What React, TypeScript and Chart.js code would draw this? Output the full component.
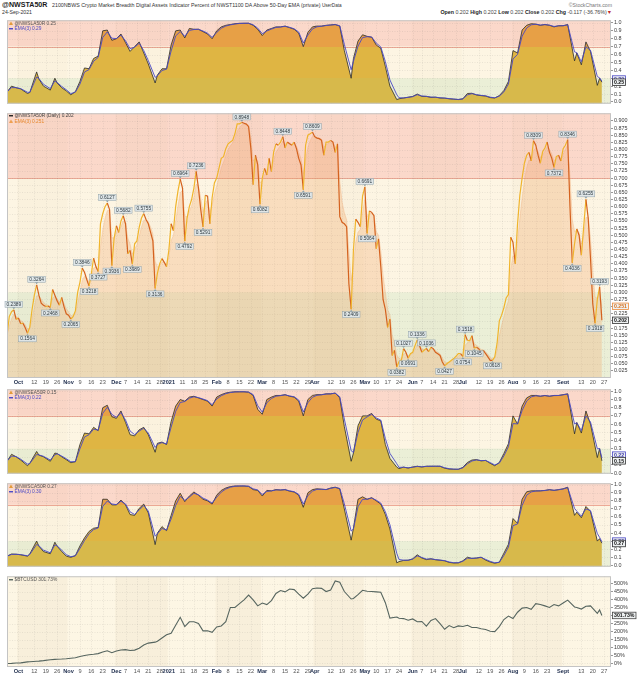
import React, { useEffect, useRef } from 'react';
import { Chart, registerables } from 'chart.js';

Chart.register(...registerables);

const FONT = "'Liberation Sans', Arial, Helvetica, sans-serif";
Chart.defaults.font.family = FONT;

// ---------------- calendar / x axis ----------------
const FIRST_DAY_UTC = Date.UTC(2020, 8, 24); // 24-Sep-2020, first plotted trading day
const X_MAX = 265; // trading-day slots incl. right margin
const MONTH_NAMES = ['2021', 'Feb', 'Mar', 'Apr', 'May', 'Jun', 'Jul', 'Aug', 'Sept', 'Oct', 'Nov', 'Dec'];
const SHADED_MONTHS = [9, 11, 1, 3, 5, 7];

// ---------------- main panel: @NWSTA50R (daily) ----------------
const MAIN_VALUES = [
  0.150, 0.215, 0.232, 0.2389, 0.205, 0.210, 0.190, 0.192, 0.176, 0.1564,
  0.178, 0.240, 0.290, 0.3264, 0.290, 0.262, 0.255, 0.250, 0.252, 0.2468,
  0.310, 0.290, 0.270, 0.255, 0.282, 0.250, 0.225, 0.220, 0.2065, 0.215,
  0.235, 0.300, 0.335, 0.3846, 0.370, 0.345, 0.3218, 0.365, 0.420, 0.390,
  0.3727, 0.540, 0.575, 0.600, 0.6127, 0.590, 0.3936, 0.490, 0.533, 0.510,
  0.550, 0.5682, 0.540, 0.435, 0.447, 0.3989, 0.470, 0.480, 0.527, 0.560,
  0.5755, 0.555, 0.540, 0.510, 0.480, 0.3136, 0.367, 0.400, 0.418, 0.405,
  0.390, 0.447, 0.540, 0.516, 0.600, 0.654, 0.6964, 0.665, 0.4792, 0.560,
  0.600, 0.625, 0.665, 0.7236, 0.665, 0.590, 0.5291, 0.640, 0.637, 0.540,
  0.631, 0.683, 0.700, 0.734, 0.769, 0.775, 0.803, 0.820, 0.826, 0.832,
  0.855, 0.890, 0.890, 0.8948, 0.892, 0.889, 0.880, 0.803, 0.677, 0.780,
  0.746, 0.6082, 0.700, 0.734, 0.711, 0.769, 0.723, 0.792, 0.820, 0.815,
  0.826, 0.8448, 0.806, 0.826, 0.820, 0.815, 0.826, 0.803, 0.769, 0.746,
  0.6591, 0.815, 0.850, 0.855, 0.8609, 0.845, 0.840, 0.838, 0.832, 0.780,
  0.826, 0.826, 0.832, 0.826, 0.790, 0.820, 0.565, 0.545, 0.540, 0.530,
  0.330, 0.2409, 0.450, 0.556, 0.545, 0.530, 0.637, 0.6691, 0.5064, 0.585,
  0.580, 0.568, 0.453, 0.487, 0.390, 0.275, 0.240, 0.177, 0.206, 0.079,
  0.097, 0.0382, 0.057, 0.062, 0.1027, 0.090, 0.0691, 0.085, 0.090, 0.113,
  0.1336, 0.113, 0.090, 0.097, 0.1036, 0.092, 0.108, 0.103, 0.090, 0.085,
  0.079, 0.056, 0.0427, 0.050, 0.056, 0.062, 0.068, 0.076, 0.085, 0.085,
  0.0754, 0.1518, 0.131, 0.131, 0.148, 0.1045, 0.108, 0.102, 0.090, 0.097,
  0.085, 0.074, 0.062, 0.0618, 0.074, 0.120, 0.200, 0.220, 0.246, 0.280,
  0.292, 0.493, 0.475, 0.400, 0.540, 0.640, 0.700, 0.752, 0.780, 0.790,
  0.760, 0.8309, 0.815, 0.780, 0.752, 0.792, 0.805, 0.826, 0.790, 0.770,
  0.7372, 0.775, 0.780, 0.760, 0.803, 0.815, 0.8346, 0.600, 0.4036, 0.470,
  0.522, 0.500, 0.430, 0.528, 0.6255, 0.560, 0.420, 0.260, 0.1918, 0.275,
  0.3193, 0.202,
];
const PEAK_IDX = [3, 9, 13, 19, 28, 33, 36, 40, 44, 46, 51, 55, 60, 65, 76, 78, 83, 86, 103, 111, 121, 130, 134, 151, 157, 158, 171, 174, 176, 180, 184, 192, 200, 201, 205, 213, 231, 240, 246, 248, 254, 258, 260];
const PEAK_DIR = [1, -1, 1, -1, -1, 1, -1, -1, 1, -1, 1, -1, 1, -1, 1, -1, 1, -1, 1, -1, 1, -1, 1, -1, 1, -1, -1, 1, -1, 1, 1, -1, -1, 1, -1, -1, 1, -1, 1, -1, 1, -1, 1];
const MAIN_LAST = 0.202;
const MAIN_EMA_LAST = 0.251;

// ---------------- small panels (sampled every ~2 trading days) ----------------
const SAMPLE_ODD = [8, 12, 18, 20, 64, 150, 170, 248, 258];
const LA_VALUES = [
  0.126, 0.20, 0.18, 0.165, 0.107, 0.12, 0.38, 0.29, 0.20, 0.15,
  0.30, 0.24, 0.18, 0.14, 0.09, 0.13, 0.26, 0.43, 0.42, 0.55,
  0.58, 0.90, 0.91, 0.78, 0.80, 0.86, 0.75, 0.64, 0.70, 0.76,
  0.62, 0.48, 0.24, 0.34, 0.42, 0.42, 0.72, 0.90, 0.91, 0.81,
  0.93, 0.92, 0.92, 0.89, 0.86, 0.80, 0.90, 0.95, 0.97, 0.98,
  0.99, 0.995, 0.996, 0.996, 0.97, 0.92, 0.84, 0.91, 0.93, 0.95,
  0.95, 0.96, 0.94, 0.92, 0.87, 0.70, 0.88, 0.95, 0.96, 0.96,
  0.97, 0.975, 0.98, 0.96, 0.65, 0.30, 0.55, 0.77, 0.85, 0.83,
  0.82, 0.72, 0.68, 0.45, 0.20, 0.03, 0.04, 0.05, 0.06, 0.07,
  0.10, 0.07, 0.07, 0.058, 0.06, 0.05, 0.048, 0.04, 0.035, 0.03,
  0.04, 0.107, 0.11, 0.088, 0.08, 0.075, 0.055, 0.05, 0.08, 0.145,
  0.26, 0.65, 0.62, 0.91, 0.97, 0.99, 0.985, 0.97, 0.98, 0.97,
  0.95, 0.965, 0.965, 0.98, 0.52, 0.62, 0.47, 0.76, 0.64, 0.21,
  0.30, 0.25,
];
const EA_VALUES = [
  0.145, 0.23, 0.20, 0.16, 0.09, 0.12, 0.265, 0.22, 0.20, 0.145,
  0.245, 0.24, 0.20, 0.165, 0.127, 0.14, 0.35, 0.49, 0.48, 0.56,
  0.52, 0.80, 0.83, 0.69, 0.67, 0.76, 0.62, 0.47, 0.455, 0.53,
  0.56, 0.47, 0.255, 0.365, 0.38, 0.35, 0.63, 0.82, 0.90, 0.88,
  0.93, 0.94, 0.92, 0.90, 0.88, 0.82, 0.93, 0.96, 0.98, 0.99,
  0.995, 0.995, 0.995, 0.99, 0.95, 0.78, 0.72, 0.90, 0.93, 0.95,
  0.95, 0.96, 0.94, 0.93, 0.88, 0.70, 0.90, 0.95, 0.96, 0.96,
  0.97, 0.97, 0.98, 0.92, 0.57, 0.145, 0.245, 0.58, 0.70, 0.70,
  0.73, 0.66, 0.64, 0.35, 0.18, 0.073, 0.055, 0.073, 0.062, 0.075,
  0.084, 0.075, 0.084, 0.084, 0.084, 0.084, 0.06, 0.05, 0.047, 0.047,
  0.07, 0.13, 0.16, 0.165, 0.15, 0.155, 0.12, 0.09, 0.13, 0.24,
  0.36, 0.70, 0.60, 0.82, 0.92, 0.95, 0.95, 0.94, 0.95, 0.94,
  0.95, 0.95, 0.96, 0.97, 0.48, 0.62, 0.49, 0.76, 0.60, 0.19,
  0.30, 0.15,
];
const CA_VALUES = [
  0.113, 0.14, 0.137, 0.13, 0.113, 0.14, 0.30, 0.237, 0.17, 0.143,
  0.286, 0.237, 0.17, 0.113, 0.098, 0.12, 0.24, 0.34, 0.42, 0.46,
  0.47, 0.82, 0.82, 0.75, 0.75, 0.81, 0.75, 0.63, 0.62, 0.707,
  0.76, 0.65, 0.256, 0.40, 0.48, 0.43, 0.62, 0.80, 0.895, 0.79,
  0.86, 0.91, 0.87, 0.82, 0.80, 0.76, 0.87, 0.93, 0.96, 0.977,
  0.985, 0.985, 0.985, 0.98, 0.94, 0.93, 0.86, 0.93, 0.925, 0.94,
  0.935, 0.94, 0.92, 0.91, 0.87, 0.72, 0.90, 0.94, 0.95, 0.945,
  0.94, 0.96, 0.97, 0.95, 0.70, 0.312, 0.46, 0.82, 0.85, 0.82,
  0.84, 0.80, 0.76, 0.63, 0.45, 0.03, 0.045, 0.06, 0.062, 0.08,
  0.13, 0.09, 0.07, 0.08, 0.068, 0.062, 0.055, 0.035, 0.028, 0.03,
  0.055, 0.10, 0.085, 0.09, 0.10, 0.064, 0.04, 0.025, 0.038, 0.15,
  0.26, 0.58, 0.52, 0.82, 0.913, 0.925, 0.925, 0.925, 0.93, 0.94,
  0.93, 0.94, 0.95, 0.97, 0.62, 0.66, 0.59, 0.73, 0.67, 0.30,
  0.33, 0.274,
];
const BTC_PCT = [
  0, 1, 3, 4, 10, 11, 14, 15, 18, 24,
  26, 27, 28, 30, 33, 36, 44, 50, 55, 58,
  62, 72, 80, 68, 78, 85, 87, 82, 84, 96,
  116, 128, 134, 140, 160, 180, 190, 240, 290, 232,
  262, 262, 252, 205, 206, 196, 230, 236, 262, 352,
  352, 376, 400, 430, 400, 362, 380, 370, 395, 440,
  458, 450, 468, 464, 436, 410, 436, 470, 474, 472,
  452, 462, 518, 510, 452, 405, 408, 432, 460, 454,
  452, 450, 448, 382, 285, 292, 284, 282, 272, 280,
  262, 264, 235, 270, 282, 250, 215, 238, 225, 236,
  232, 240, 226, 226, 218, 213, 203, 200, 232, 276,
  298, 282, 322, 348, 352, 340, 376, 370, 362, 352,
  370, 362, 380, 398, 355, 352, 342, 360, 362, 315,
  336, 301.73,
];
const PANEL_NAMES = ['@NWSLA50R', '@NWSEA50R', '@NWSCA50R'];
const PANEL_LAST = [0.25, 0.15, 0.27];
const PANEL_EMA_LAST = [0.29, 0.22, 0.30];
const PANEL_BAND_HI = [0.7, 0.7, 0.75];
const PANEL_BAND_LO = [0.3, 0.3, 0.3];
const BTC_LAST = '301.73%';

const PANEL_Y_TICKS = [0, 0.1, 0.2, 0.3, 0.4, 0.5, 0.6, 0.7, 0.8, 0.9, 1.0];
const MAIN_Y_TICKS = [0.025, 0.05, 0.075, 0.1, 0.125, 0.15, 0.175, 0.2, 0.225, 0.25, 0.275, 0.3, 0.325, 0.35, 0.375, 0.4, 0.425, 0.45, 0.475, 0.5, 0.525, 0.55, 0.575, 0.6, 0.625, 0.65, 0.675, 0.7, 0.725, 0.75, 0.775, 0.8, 0.825, 0.85, 0.875, 0.9];
const BTC_Y_TICKS = [0, 50, 100, 150, 200, 250, 300, 350, 400, 450, 500];

// ---------------- derived helpers ----------------
const SAMPLE_IDX = Array.from({ length: 131 }, (_, i) => (SAMPLE_ODD.includes(i * 2) ? i * 2 + 1 : i * 2)).concat([261]);

function tradingDays(n: number): Date[] {
  const out: Date[] = [];
  const d = new Date(FIRST_DAY_UTC);
  while (out.length < n) {
    const wd = d.getUTCDay();
    if (wd !== 0 && wd !== 6) out.push(new Date(d.getTime()));
    d.setUTCDate(d.getUTCDate() + 1);
  }
  return out;
}
const DAYS = tradingDays(X_MAX + 1);
const MONTH_STARTS: number[] = [];
DAYS.forEach((d, i) => {
  if (i > 0 && d.getUTCMonth() !== DAYS[i - 1].getUTCMonth()) MONTH_STARTS.push(i);
});
const X_TICKS: { value: number; text: string; major: boolean }[] = [];
DAYS.forEach((d, i) => {
  if (i < 4 || i > X_MAX - 1) return;
  if (MONTH_STARTS.includes(i)) {
    X_TICKS.push({ value: i, text: MONTH_NAMES[d.getUTCMonth()], major: true });
    return;
  }
  if (d.getUTCDay() !== 1) return;
  const near = MONTH_STARTS.some((m) => (i - m >= 1 && i - m <= 3) || (m - i >= 1 && m - i <= 2));
  if (!near) X_TICKS.push({ value: i, text: String(d.getUTCDate()), major: false });
});
const X_TICK_MAP = new Map(X_TICKS.map((t) => [t.value, t]));
const MONTH_SPANS = [0, ...MONTH_STARTS].map((s, k, arr) => ({
  start: s,
  end: k + 1 < arr.length ? arr[k + 1] : X_MAX + 1,
  month: DAYS[s].getUTCMonth(),
}));

function ema(values: number[], alpha: number): number[] {
  const out: number[] = [];
  values.forEach((v, i) => out.push(i === 0 ? v : alpha * v + (1 - alpha) * out[i - 1]));
  return out;
}

const PINK = '#fbd8ca';
const CREAM = '#fdf5e3';
const GREEN = '#ebefd7';
const RISE = '#f0b42c';
const FALL = '#d4621f';

type Legend = { text: string; color: string; icon: 'dash' | 'tri'; iconColor: string };
type Tag = { value: number; text: string; border: string; color: string };
type PanelOpts = {
  yMin: number;
  yMax: number;
  yTicks: number[];
  yFmt: (v: number) => string;
  bandHi?: number;
  bandLo?: number;
  bg: string;
  shade: number;
  xAxisHeight: number;
  datasets: any[];
  legend: Legend[];
  legendTop: number;
  tags: Tag[];
  peaks?: boolean;
};

function bandFill(hi: number, lo: number) {
  return (context: any) => {
    const chart = context.chart;
    const a = chart.chartArea;
    if (!a) return 'rgba(224,176,64,0.9)';
    const y = chart.scales.y;
    const g = chart.ctx.createLinearGradient(0, a.top, 0, a.bottom);
    const f = (p: number) => Math.min(1, Math.max(0, (p - a.top) / (a.bottom - a.top)));
    const pHi = f(y.getPixelForValue(hi));
    const pLo = f(y.getPixelForValue(lo));
    g.addColorStop(0, '#e7a046');
    g.addColorStop(pHi, '#e7a046');
    g.addColorStop(pHi, '#dfb543');
    g.addColorStop(pLo, '#dfb543');
    g.addColorStop(pLo, '#d7b94b');
    g.addColorStop(1, '#d7b94b');
    return g;
  };
}

function buildConfig(o: PanelOpts): any {
  const bgPlugin = {
    id: 'panelBg',
    beforeDraw(chart: any) {
      const { ctx, chartArea: a, scales } = chart;
      const x = scales.x;
      const y = scales.y;
      ctx.save();
      ctx.fillStyle = '#ffffff';
      ctx.fillRect(0, 0, chart.width, chart.height);
      ctx.fillStyle = o.bg;
      ctx.fillRect(a.left, a.top, a.width, a.height);
      if (o.bandHi !== undefined && o.bandLo !== undefined) {
        const yHi = y.getPixelForValue(o.bandHi);
        const yLo = y.getPixelForValue(o.bandLo);
        ctx.fillStyle = PINK;
        ctx.fillRect(a.left, a.top, a.width, yHi - a.top);
        ctx.fillStyle = CREAM;
        ctx.fillRect(a.left, yHi, a.width, yLo - yHi);
        ctx.fillStyle = GREEN;
        ctx.fillRect(a.left, yLo, a.width, a.bottom - yLo);
        ctx.strokeStyle = 'rgba(232,150,130,0.8)';
        ctx.lineWidth = 1;
        ctx.beginPath();
        ctx.moveTo(a.left, Math.round(yHi) + 0.5);
        ctx.lineTo(a.right, Math.round(yHi) + 0.5);
        ctx.stroke();
      }
      MONTH_SPANS.forEach((s) => {
        if (!SHADED_MONTHS.includes(s.month)) return;
        const x0 = Math.max(a.left, x.getPixelForValue(s.start - 0.5));
        const x1 = Math.min(a.right, x.getPixelForValue(s.end - 0.5));
        if (x1 <= x0) return;
        ctx.fillStyle = `rgba(150,115,50,${o.shade})`;
        ctx.fillRect(x0, a.top, x1 - x0, a.height);
      });
      ctx.setLineDash([1, 1.5]);
      ctx.strokeStyle = 'rgba(110,110,110,0.22)';
      ctx.lineWidth = 0.6;
      X_TICKS.forEach((t) => {
        const px = Math.round(x.getPixelForValue(t.value)) + 0.5;
        ctx.beginPath();
        ctx.moveTo(px, a.top);
        ctx.lineTo(px, a.bottom);
        ctx.stroke();
      });
      o.yTicks.forEach((v) => {
        const py = Math.round(y.getPixelForValue(v)) + 0.5;
        ctx.beginPath();
        ctx.moveTo(a.left, py);
        ctx.lineTo(a.right, py);
        ctx.stroke();
      });
      ctx.restore();
    },
    afterDraw(chart: any) {
      const { ctx, chartArea: a, scales } = chart;
      const x = scales.x;
      const y = scales.y;
      ctx.save();
      ctx.setLineDash([]);
      ctx.strokeStyle = '#c4c4c4';
      ctx.lineWidth = 1;
      ctx.strokeRect(a.left + 0.5, a.top + 0.5, a.width - 1, a.height - 1);

      if (o.peaks) {
        PEAK_IDX.forEach((idx, k) => {
          const v = MAIN_VALUES[idx];
          const dir = PEAK_DIR[k];
          const px = x.getPixelForValue(idx);
          const py = y.getPixelForValue(v);
          const text = v.toFixed(4);
          ctx.font = `4.8px ${FONT}`;
          const w = ctx.measureText(text).width + 3;
          const h = 6;
          const bx = px - w / 2;
          const by = dir > 0 ? py - 2.5 - h : py + 2.5;
          ctx.fillStyle = 'rgba(222,230,233,0.95)';
          ctx.fillRect(bx, by, w, h);
          ctx.strokeStyle = '#8fa1aa';
          ctx.lineWidth = 0.5;
          ctx.strokeRect(bx, by, w, h);
          ctx.fillStyle = '#8fa1aa';
          ctx.beginPath();
          if (dir > 0) {
            ctx.moveTo(px - 1.5, by + h);
            ctx.lineTo(px, py - 0.6);
            ctx.lineTo(px + 1.5, by + h);
          } else {
            ctx.moveTo(px - 1.5, by);
            ctx.lineTo(px, py + 0.6);
            ctx.lineTo(px + 1.5, by);
          }
          ctx.closePath();
          ctx.fill();
          ctx.fillStyle = '#2e3a40';
          ctx.textAlign = 'center';
          ctx.textBaseline = 'middle';
          ctx.fillText(text, px, by + h / 2 + 0.3);
        });
      }

      o.legend.forEach((l, i) => {
        const cy = a.top + o.legendTop + i * 5.5;
        const lx = a.left + 2;
        ctx.fillStyle = l.iconColor;
        if (l.icon === 'dash') {
          ctx.fillRect(lx, cy - 0.7, 4, 1.4);
        } else {
          ctx.beginPath();
          ctx.moveTo(lx, cy + 1.8);
          ctx.lineTo(lx + 2, cy - 1.8);
          ctx.lineTo(lx + 4, cy + 1.8);
          ctx.closePath();
          ctx.fill();
        }
        ctx.font = `4.8px ${FONT}`;
        ctx.fillStyle = l.color;
        ctx.textAlign = 'left';
        ctx.textBaseline = 'middle';
        ctx.fillText(l.text, lx + 5.5, cy + 0.2);
      });

      o.tags.forEach((t) => {
        const py = y.getPixelForValue(t.value);
        ctx.font = `bold 5.2px ${FONT}`;
        const w = ctx.measureText(t.text).width + 3;
        const h = 6.5;
        const bx = a.right + 1.5;
        const by = py - h / 2;
        ctx.fillStyle = '#eef1f2';
        ctx.fillRect(bx, by, w, h);
        ctx.strokeStyle = t.border;
        ctx.lineWidth = 0.8;
        ctx.strokeRect(bx, by, w, h);
        ctx.fillStyle = t.color;
        ctx.textAlign = 'left';
        ctx.textBaseline = 'middle';
        ctx.fillText(t.text, bx + 1.5, py + 0.3);
      });
      ctx.restore();
    },
  };

  const showX = o.xAxisHeight > 0;
  return {
    type: 'line',
    data: { datasets: o.datasets },
    options: {
      animation: false,
      responsive: false,
      maintainAspectRatio: false,
      events: [],
      layout: { padding: { left: 7, right: 0, top: 0, bottom: 0 }, autoPadding: false },
      plugins: { legend: { display: false }, tooltip: { enabled: false }, title: { display: false } },
      elements: { point: { radius: 0 }, line: { tension: 0 } },
      scales: {
        x: {
          type: 'linear',
          min: 0,
          max: X_MAX,
          display: showX,
          grid: { display: false, drawTicks: false },
          border: { display: false },
          afterBuildTicks: (s: any) => {
            s.ticks = X_TICKS.map((t) => ({ value: t.value }));
          },
          afterFit: (s: any) => {
            s.height = o.xAxisHeight;
          },
          ticks: {
            autoSkip: false,
            maxRotation: 0,
            minRotation: 0,
            padding: 1,
            font: (c: any) => ({
              family: FONT,
              size: 5.6,
              weight: c.tick && X_TICK_MAP.get(c.tick.value)?.major ? 'bold' : 'normal',
            }),
            color: (c: any) => (c.tick && X_TICK_MAP.get(c.tick.value)?.major ? '#1d2c4c' : '#555'),
            callback: (v: any) => X_TICK_MAP.get(v)?.text ?? '',
          },
        },
        y: {
          position: 'right',
          min: o.yMin,
          max: o.yMax,
          grid: { display: true, drawOnChartArea: false, drawTicks: true, tickLength: 2, color: '#999' },
          border: { display: false },
          afterBuildTicks: (s: any) => {
            s.ticks = o.yTicks.map((v) => ({ value: v }));
          },
          afterFit: (s: any) => {
            s.width = 29;
          },
          ticks: {
            autoSkip: false,
            padding: 1,
            color: '#3a3a3a',
            font: { family: FONT, size: 5.4 },
            callback: (v: any) => o.yFmt(Number(v)),
          },
        },
      },
    },
    plugins: [bgPlugin],
  };
}

function areaPanel(p: number, yMin: number, yMax: number): PanelOpts {
  const vals = [LA_VALUES, EA_VALUES, CA_VALUES][p];
  const pts = vals.map((v, i) => ({ x: SAMPLE_IDX[i], y: v }));
  const emaPts = ema(vals, 0.75).map((v, i) => ({ x: SAMPLE_IDX[i], y: v }));
  return {
    yMin,
    yMax,
    yTicks: PANEL_Y_TICKS,
    yFmt: (v) => v.toFixed(1),
    bandHi: PANEL_BAND_HI[p],
    bandLo: PANEL_BAND_LO[p],
    bg: CREAM,
    shade: 0.025,
    xAxisHeight: 0,
    datasets: [
      { data: emaPts, borderColor: '#4a48c6', borderWidth: 0.9, pointRadius: 0, fill: false },
      {
        data: pts,
        borderColor: '#2a2a2a',
        borderWidth: 0.8,
        pointRadius: 0,
        fill: 'start',
        backgroundColor: bandFill(PANEL_BAND_HI[p], PANEL_BAND_LO[p]),
      },
    ],
    legend: [
      { text: `${PANEL_NAMES[p]} ${PANEL_LAST[p].toFixed(2)}`, color: '#555', icon: 'tri', iconColor: '#e39a3a' },
      { text: `EMA(3) ${PANEL_EMA_LAST[p].toFixed(2)}`, color: '#4a48c6', icon: 'dash', iconColor: '#4a48c6' },
    ],
    legendTop: 3,
    tags: [
      { value: PANEL_EMA_LAST[p], text: PANEL_EMA_LAST[p].toFixed(2), border: '#4a48c6', color: '#3a38a6' },
      { value: PANEL_LAST[p], text: PANEL_LAST[p].toFixed(2), border: '#333', color: '#111' },
    ],
  };
}

function mainPanel(): PanelOpts {
  const pts = MAIN_VALUES.map((v, i) => ({ x: i, y: v }));
  const emaPts = ema(MAIN_VALUES, 0.5).map((v, i) => ({ x: i, y: v }));
  return {
    yMin: 0,
    yMax: 0.927,
    yTicks: MAIN_Y_TICKS,
    yFmt: (v) => v.toFixed(3),
    bandHi: 0.7,
    bandLo: 0.3,
    bg: CREAM,
    shade: 0.03,
    xAxisHeight: 6,
    datasets: [
      {
        data: pts,
        borderColor: RISE,
        borderWidth: 1.2,
        pointRadius: 0,
        fill: false,
        segment: { borderColor: (c: any) => (c.p1.parsed.y < c.p0.parsed.y ? FALL : RISE) },
      },
      {
        data: emaPts,
        borderColor: 'rgba(240,165,110,0.55)',
        borderWidth: 0.6,
        pointRadius: 0,
        fill: 'start',
        backgroundColor: 'rgba(242,158,92,0.27)',
      },
    ],
    legend: [
      { text: `@NWSTA50R (Daily) ${MAIN_LAST.toFixed(3)}`, color: '#444', icon: 'dash', iconColor: '#222' },
      { text: `EMA(3) ${MAIN_EMA_LAST.toFixed(3)}`, color: '#e8882c', icon: 'tri', iconColor: '#f0a050' },
    ],
    legendTop: 2.5,
    tags: [
      { value: MAIN_EMA_LAST, text: MAIN_EMA_LAST.toFixed(3), border: '#ec8a3a', color: '#d8701c' },
      { value: MAIN_LAST, text: MAIN_LAST.toFixed(3), border: '#333', color: '#111' },
    ],
    peaks: true,
  };
}

function btcPanel(): PanelOpts {
  const pts = BTC_PCT.map((v, i) => ({ x: SAMPLE_IDX[i], y: v }));
  return {
    yMin: -22,
    yMax: 548,
    yTicks: BTC_Y_TICKS,
    yFmt: (v) => `${v}%`,
    bg: '#fdf6e4',
    shade: 0.05,
    xAxisHeight: 8,
    datasets: [{ data: pts, borderColor: '#56655f', borderWidth: 1.1, pointRadius: 0, fill: false }],
    legend: [{ text: `$BTCUSD ${BTC_LAST}`, color: '#555', icon: 'dash', iconColor: '#56655f' }],
    legendTop: 3.5,
    tags: [{ value: 301.73, text: BTC_LAST, border: '#444', color: '#111' }],
  };
}

function ChartCanvas({ top, height, make }: { top: number; height: number; make: () => PanelOpts }) {
  const ref = useRef<HTMLCanvasElement | null>(null);
  useEffect(() => {
    if (!ref.current) return;
    const chart = new Chart(ref.current, buildConfig(make()));
    return () => chart.destroy();
  }, []);
  return (
    <canvas
      ref={ref}
      width={640}
      height={height}
      style={{ position: 'absolute', left: 0, top, width: 640, height, display: 'block' }}
    />
  );
}

function Header() {
  const base: React.CSSProperties = { position: 'absolute', lineHeight: 1, whiteSpace: 'nowrap', fontFamily: FONT };
  return (
    <>
      <div style={{ ...base, left: 2, top: 2.2, fontSize: 7.1, fontWeight: 'bold', color: '#1a1a1a' }}>@NWSTA50R</div>
      <div style={{ ...base, left: 52, top: 3.4, fontSize: 5.3, color: '#333' }}>
        2100NBWS Crypto Market Breadth Digital Assets Indicator Percent of NWST1100 DA Above 50-Day EMA (private){' '}
        <span style={{ fontSize: 4.7 }}>UserData</span>
      </div>
      <div style={{ ...base, left: 2, top: 9.9, fontSize: 5.2, color: '#333' }}>24-Sep-2021</div>
      <div style={{ ...base, right: 28, top: 3.3, fontSize: 5.2, color: '#777' }}>©StockCharts.com</div>
      <div style={{ ...base, right: 28, top: 9.7, fontSize: 5.3, color: '#444' }}>
        <b style={{ color: '#222' }}>Open</b> 0.202 <b style={{ color: '#222' }}>High</b> 0.202{' '}
        <b style={{ color: '#222' }}>Low</b> 0.202 <b style={{ color: '#222' }}>Close</b> 0.202{' '}
        <b style={{ color: '#222' }}>Chg</b> -0.117 (-36.76%)<span style={{ color: '#c0282a' }}>▼</span>
      </div>
    </>
  );
}

export default function App() {
  return (
    <div style={{ position: 'absolute', left: 0, top: 0, width: 640, height: 675, background: '#ffffff', overflow: 'hidden' }}>
      <Header />
      <ChartCanvas top={16} height={92} make={() => areaPanel(0, -0.023, 1.034)} />
      <ChartCanvas top={109} height={275} make={mainPanel} />
      <ChartCanvas top={385} height={93} make={() => areaPanel(1, -0.008, 1.026)} />
      <ChartCanvas top={479} height={92} make={() => areaPanel(2, -0.019, 1.019)} />
      <ChartCanvas top={572} height={103} make={btcPanel} />
    </div>
  );
}
